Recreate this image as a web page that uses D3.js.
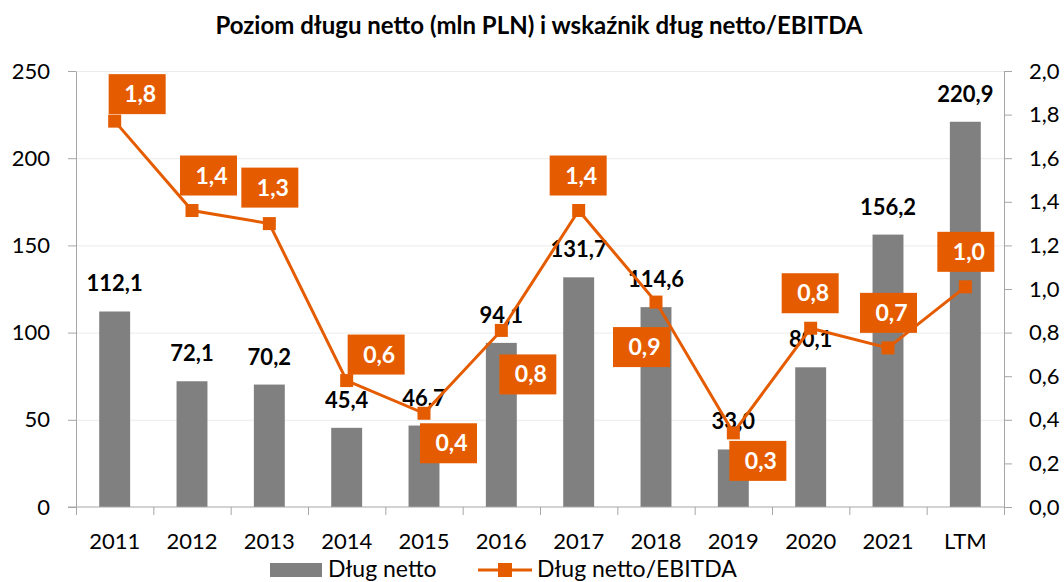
<!DOCTYPE html>
<html>
<head>
<meta charset="utf-8">
<script src="https://cdn.jsdelivr.net/npm/d3@7"></script>
<style>
  body { margin: 0; background: #fff; }
  svg text { font-family: Lato, "Open Sans", sans-serif; }
</style>
</head>
<body>
<div id="chart"></div>
<script>
// chart data
const categories = ["2011", "2012", "2013", "2014", "2015", "2016", "2017", "2018", "2019", "2020", "2021", "LTM"];
const debtValues = [112.1, 72.1, 70.2, 45.4, 46.7, 94.1, 131.7, 114.6, 33.0, 80.1, 156.2, 220.9];
const ratioValues = [1.77, 1.36, 1.30, 0.58, 0.43, 0.81, 1.36, 0.94, 0.34, 0.82, 0.73, 1.01];
const leftTicks = [0, 50, 100, 150, 200, 250];
const rightTicks = [0, 0.2, 0.4, 0.6, 0.8, 1.0, 1.2, 1.4, 1.6, 1.8, 2.0];
const seriesNames = ["Dług netto", "Dług netto/EBITDA"];
const title = "Poziom długu netto (mln PLN) i wskaźnik dług netto/EBITDA";

// where each ratio label box sits relative to its marker (box top-left)
const boxOffsets = [[-6, -47], [-12, -55], [-28, -56], [1, -46], [-4, 10], [-2, 24],
                    [-29, -55], [-43, 25], [-4, 8], [-29, -55], [-28, -55], [-28, -55]];

const width = 1064, height = 582;
const plot = { left: 76, right: 1004, top: 71, bottom: 507 };
const orange = "#E55C00";
const barColor = "#808080";
const axisColor = "#A6A6A6";
const comma = v => d3.format(".1f")(v).replace(".", ",");

const svg = d3.select("#chart")
  .append("svg")
  .attr("width", width)
  .attr("height", height);

// Scales
const x = d3.scaleBand()
  .domain(categories)
  .range([plot.left, plot.right]);

const yL = d3.scaleLinear()
  .domain([0, 250])
  .range([plot.bottom, plot.top]);

const yR = d3.scaleLinear()
  .domain([0, 2])
  .range([plot.bottom, plot.top]);

// Title
svg.append("text")
  .attr("x", 539)
  .attr("y", 34)
  .attr("text-anchor", "middle")
  .attr("font-weight", "bold")
  .attr("font-size", 24)
  .attr("fill", "#000")
  .text(title);

// Gridlines
svg.append("g")
  .selectAll("line")
  .data(leftTicks.slice(1))
  .enter()
  .append("line")
  .attr("x1", plot.left)
  .attr("x2", plot.right)
  .attr("y1", d => yL(d) + 0.5)
  .attr("y2", d => yL(d) + 0.5)
  .attr("stroke", "#EBEBEB")
  .attr("stroke-width", 1);

// Bars
const barW = x.bandwidth() * 0.4;
svg.append("g")
  .selectAll("rect")
  .data(debtValues)
  .enter()
  .append("rect")
  .attr("x", (d, i) => x(categories[i]) + (x.bandwidth() - barW) / 2)
  .attr("y", d => yL(d))
  .attr("width", barW)
  .attr("height", d => plot.bottom - yL(d))
  .attr("fill", barColor);

// Axes
function styleAxis(g) {
  g.selectAll("path, line").attr("stroke", axisColor);
  g.selectAll("text")
    .attr("font-size", 22)
    .attr("fill", "#000")
    .style("font-family", "Lato, 'Open Sans', sans-serif");
}

svg.append("g")
  .attr("transform", `translate(${plot.left},0)`)
  .call(d3.axisLeft(yL).tickValues(leftTicks).tickSize(8).tickSizeOuter(0).tickPadding(18))
  .call(styleAxis);

svg.append("g")
  .attr("transform", `translate(${plot.right},0)`)
  .call(d3.axisRight(yR).tickValues(rightTicks).tickSize(8).tickSizeOuter(0).tickPadding(17).tickFormat(comma))
  .call(styleAxis);

// bottom axis: tick marks on band boundaries, labels in band centres
const xAxis = svg.append("g")
  .attr("transform", `translate(0,${plot.bottom})`);
xAxis.append("line")
  .attr("x1", plot.left - 8)
  .attr("x2", plot.right)
  .attr("stroke", axisColor);
xAxis.selectAll(".tick-mark")
  .data(categories.concat(["end"]))
  .enter()
  .append("line")
  .attr("class", "tick-mark")
  .attr("x1", (d, i) => plot.left + i * x.step() + 0.5)
  .attr("x2", (d, i) => plot.left + i * x.step() + 0.5)
  .attr("y2", 8)
  .attr("stroke", axisColor);
xAxis.selectAll(".cat")
  .data(categories)
  .enter()
  .append("text")
  .attr("class", "cat")
  .attr("x", d => x(d) + x.bandwidth() / 2)
  .attr("y", 42)
  .attr("text-anchor", "middle")
  .attr("font-size", 22)
  .text(d => d);

// Bar value labels
svg.append("g")
  .selectAll("text")
  .data(debtValues)
  .enter()
  .append("text")
  .attr("x", (d, i) => x(categories[i]) + x.bandwidth() / 2)
  .attr("y", d => yL(d) - 20)
  .attr("text-anchor", "middle")
  .attr("font-weight", "bold")
  .attr("font-size", 22)
  .attr("fill", "#000")
  .text(d => comma(d));

// Line + markers
const cx = i => x(categories[i]) + x.bandwidth() / 2;
const line = d3.line()
  .x((d, i) => cx(i))
  .y(d => yR(d));

svg.append("path")
  .datum(ratioValues)
  .attr("d", line)
  .attr("fill", "none")
  .attr("stroke", orange)
  .attr("stroke-width", 3);

const ms = 13;
svg.append("g")
  .selectAll("rect")
  .data(ratioValues)
  .enter()
  .append("rect")
  .attr("x", (d, i) => cx(i) - ms / 2)
  .attr("y", d => yR(d) - ms / 2)
  .attr("width", ms)
  .attr("height", ms)
  .attr("fill", orange);

// Ratio label boxes
const boxW = 57, boxH = 40;
const boxes = svg.append("g")
  .selectAll("g")
  .data(ratioValues)
  .enter()
  .append("g")
  .attr("transform", (d, i) => `translate(${cx(i) + boxOffsets[i][0]},${yR(d) + boxOffsets[i][1]})`);
boxes.append("rect")
  .attr("width", boxW)
  .attr("height", boxH)
  .attr("fill", orange);
boxes.append("text")
  .attr("x", boxW / 2 + 3)
  .attr("y", boxH / 2 + 8)
  .attr("text-anchor", "middle")
  .attr("font-weight", "bold")
  .attr("font-size", 23)
  .attr("fill", "#fff")
  .text(d => comma(d));

// Legend
const legend = svg.append("g");
legend.append("rect")
  .attr("x", 270)
  .attr("y", 563)
  .attr("width", 52)
  .attr("height", 14)
  .attr("fill", barColor);
legend.append("text")
  .attr("x", 328)
  .attr("y", 577)
  .attr("font-size", 23)
  .text(seriesNames[0]);
legend.append("line")
  .attr("x1", 478)
  .attr("x2", 532)
  .attr("y1", 570)
  .attr("y2", 570)
  .attr("stroke", orange)
  .attr("stroke-width", 3);
legend.append("rect")
  .attr("x", 498)
  .attr("y", 563)
  .attr("width", 14)
  .attr("height", 14)
  .attr("fill", orange);
legend.append("text")
  .attr("x", 537)
  .attr("y", 577)
  .attr("font-size", 23)
  .text(seriesNames[1]);
</script>
</body>
</html>
